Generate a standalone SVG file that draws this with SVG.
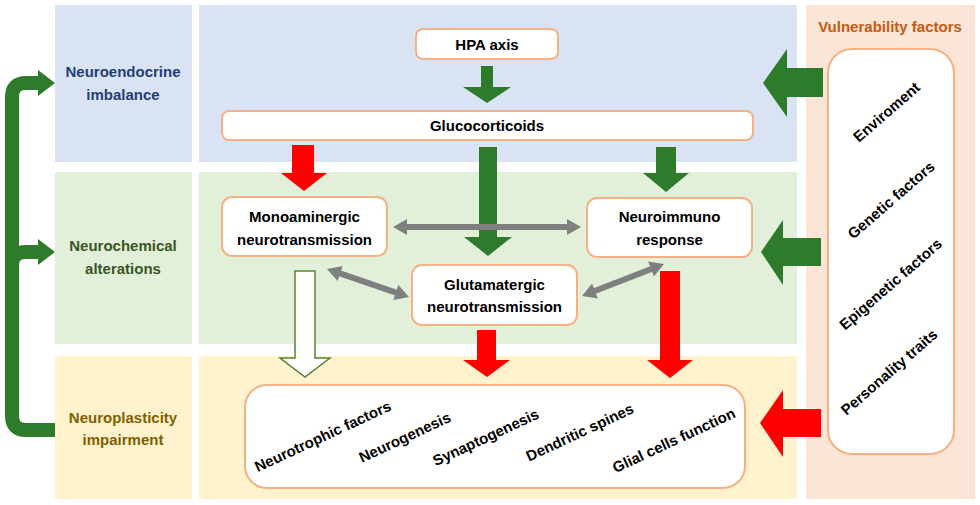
<svg xmlns="http://www.w3.org/2000/svg" width="980" height="505" viewBox="0 0 980 505">
<defs>
<style>
text{font-family:"Liberation Sans",Arial,sans-serif;font-weight:bold;font-size:15px;text-anchor:middle;}
.blue{fill:#DAE3F3}.green{fill:#E2F0D9}.yellow{fill:#FFF2CC}.peach{fill:#FBE5D6}
.box{fill:#fff;stroke:#F4B183;stroke-width:2}
.garrow{fill:#2E7B2C}
.rarrow{fill:#FF0000}
.gray{stroke:#7F7F7F;stroke-width:6;fill:none;marker-start:url(#gh);marker-end:url(#gh)}
</style>
<marker id="gh" viewBox="0 0 14 16" markerUnits="userSpaceOnUse" markerWidth="14" markerHeight="16" refX="1" refY="8" orient="auto-start-reverse">
<path d="M0,0 L14,8 L0,16 z" fill="#7F7F7F"/>
</marker>
</defs>
<rect width="980" height="505" fill="#fff"/>
<g id="panels">
<rect class="blue" x="55" y="5" width="137" height="157"/>
<rect class="green" x="55" y="172" width="137" height="172"/>
<rect class="yellow" x="55" y="356" width="137" height="143"/>
<rect class="blue" x="199" y="5" width="598" height="157"/>
<rect class="green" x="199" y="172" width="598" height="172"/>
<rect class="yellow" x="199" y="356" width="598" height="143"/>
<rect class="peach" x="806" y="5" width="169" height="494"/>
</g>
<g id="row-labels">
<text x="123" y="77" fill="#1F3F73">Neuroendocrine</text>
<text x="123" y="100" fill="#1F3F73">imbalance</text>
<text x="123" y="251" fill="#375623">Neurochemical</text>
<text x="123" y="274" fill="#375623">alterations</text>
<text x="123" y="423" fill="#7F6000">Neuroplasticity</text>
<text x="123" y="445" fill="#7F6000">impairment</text>
<text x="890" y="32" fill="#C55A11">Vulnerability factors</text>
</g>
<g id="connectors">
<path d="M55 430 L26 430 Q12 430 12 416 L12 97 Q12 83 26 83 L40 83" fill="none" stroke="#2E7B2C" stroke-width="14"/>
<polygon class="garrow" points="38,70 55,83 38,96"/>
<path d="M12 266 Q12 252 26 252 L40 252" fill="none" stroke="#2E7B2C" stroke-width="14"/>
<polygon class="garrow" points="38,239 55,252 38,265"/>
<polygon class="garrow" points="481,66 493,66 493,87 511,87 487,103 463,87 481,87"/>
<polygon class="garrow" points="479,147 497,147 497,237 512,237 488,256 464,237 479,237"/>
<polygon class="garrow" points="656,147 676,147 676,173 689,173 666,192 643,173 656,173"/>
<polygon class="rarrow" points="292,145 314,145 314,173 327,173 304,191 281,173 292,173"/>
<polygon points="295,271 315,271 315,358 330,358 305,377 280,358 295,358" fill="#fff" stroke="#548235" stroke-width="1.5"/>
<polygon class="rarrow" points="477,330 496,330 496,360 510,360 487,377 463,360 477,360"/>
<polygon class="rarrow" points="660,271 680,271 680,360 693,360 670,378 647,360 660,360"/>
<polygon class="garrow" points="823,68 823,97 787,97 787,117 763,83 787,49 787,68"/>
<polygon class="garrow" points="821,238 821,266 783,266 783,285 761,252 783,220 783,238"/>
<polygon class="rarrow" points="821,409 821,437 783,437 783,457 760,423 783,390 783,409"/>
<line class="gray" x1="406" y1="227" x2="568" y2="227"/>
<line class="gray" x1="339.3" y1="273.2" x2="396.7" y2="292.8"/>
<line class="gray" x1="594.1" y1="291.3" x2="651.9" y2="268.7"/>
</g>
<g id="hpa">
<rect class="box" x="416" y="29" width="142" height="30" rx="7"/>
<text x="487" y="50">HPA axis</text>
</g>
<g id="glucocorticoids">
<rect class="box" x="222" y="111" width="531" height="29" rx="7"/>
<text x="487" y="131">Glucocorticoids</text>
</g>
<g id="monoaminergic">
<rect class="box" x="222" y="197" width="165" height="59" rx="10"/>
<text x="304.5" y="222">Monoaminergic</text>
<text x="304.5" y="245">neurotransmission</text>
</g>
<g id="neuroimmuno">
<rect class="box" x="587" y="198" width="165" height="59" rx="10"/>
<text x="669.5" y="222">Neuroimmuno</text>
<text x="669.5" y="245">response</text>
</g>
<g id="glutamatergic">
<rect class="box" x="412" y="265" width="165" height="60" rx="10"/>
<text x="494.5" y="290">Glutamatergic</text>
<text x="494.5" y="312">neurotransmission</text>
</g>
<g id="neuroplasticity">
<rect class="box" x="245" y="385" width="500" height="103" rx="22"/>
<text transform="translate(325,441) rotate(-25)">Neurotrophic factors</text>
<text transform="translate(407,442) rotate(-25)">Neurogenesis</text>
<text transform="translate(488,442) rotate(-25)">Synaptogenesis</text>
<text transform="translate(582,437) rotate(-25)">Dendritic spines</text>
<text transform="translate(676,445) rotate(-25)">Glial cells function</text>
</g>
<g id="vulnerability">
<rect class="box" x="828" y="49" width="126" height="405" rx="24"/>
<text transform="translate(890,116) rotate(-41)">Enviroment</text>
<text transform="translate(894.5,204) rotate(-41)">Genetic factors</text>
<text transform="translate(894,288) rotate(-41)">Epigenetic factors</text>
<text transform="translate(892.5,376) rotate(-41)">Personality traits</text>
</g>
</svg>
